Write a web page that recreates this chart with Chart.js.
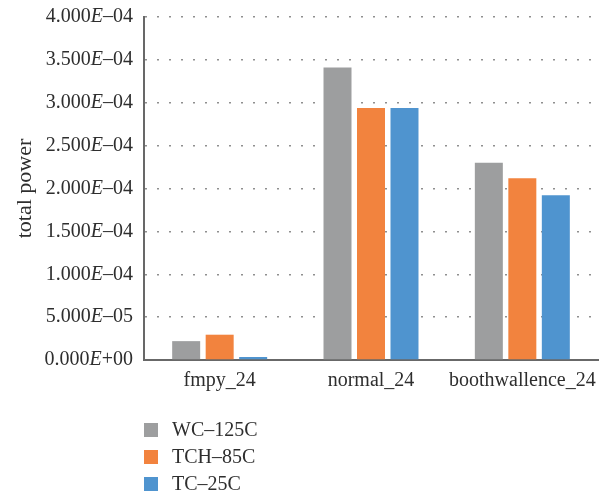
<!DOCTYPE html>
<html>
<head>
<meta charset="utf-8">
<script src="https://cdn.jsdelivr.net/npm/chart.js@4/dist/chart.umd.min.js"></script>
<style>
  html, body { margin: 0; padding: 0; background: #fff; }
  #wrap { width: 616px; height: 495px; }
</style>
</head>
<body>
<div id="wrap"><canvas id="c" width="616" height="495"></canvas></div>
<script>
// Total power per multiplier design at three process corners
const categories = ['fmpy_24', 'normal_24', 'boothwallence_24'];
const seriesNames = ['WC–125C', 'TCH–85C', 'TC–25C'];
const wc125 = [2.2e-5, 3.41e-4, 2.30e-4];
const tch85 = [2.95e-5, 2.94e-4, 2.12e-4];
const tc25 = [3.5e-6, 2.94e-4, 1.92e-4];
const seriesColors = ['#9d9e9f', '#f2833e', '#4f94cf'];
const yTickValues = [0, 5e-5, 1e-4, 1.5e-4, 2e-4, 2.5e-4, 3e-4, 3.5e-4, 4e-4];
const yTickLabels = ['0.000E+00', '5.000E–05', '1.000E–04', '1.500E–04', '2.000E–04',
                     '2.500E–04', '3.000E–04', '3.500E–04', '4.000E–04'];

const FONT = 'Liberation Serif';
const TEXT = '#2e2e2e';
const AXIS = '#686868';

// Tick labels in scientific notation with an italic "E"
const sciTicks = {
  id: 'sciTicks',
  afterDraw(chart) {
    const ctx = chart.ctx;
    const ys = chart.scales.y;
    const xr = ys.right - 11;
    ctx.save();
    ctx.fillStyle = TEXT;
    ctx.textBaseline = 'middle';
    ctx.textAlign = 'left';
    ys.ticks.forEach((t, i) => {
      const label = yTickLabels[i];
      if (!label) return;
      const [mant, exp] = label.split('E');
      const y = ys.getPixelForTick(i);
      ctx.font = `20px "${FONT}"`;
      const wExp = ctx.measureText(exp).width;
      const wMant = ctx.measureText(mant).width;
      ctx.font = `italic 20px "${FONT}"`;
      const wE = ctx.measureText('E').width;
      let x = xr - wExp - wE - wMant;
      ctx.font = `20px "${FONT}"`;
      ctx.fillText(mant, x, y);
      x += wMant;
      ctx.font = `italic 20px "${FONT}"`;
      ctx.fillText('E', x, y);
      x += wE;
      ctx.font = `20px "${FONT}"`;
      ctx.fillText(exp, x, y);
    });
    ctx.restore();
  }
};

// Vertical legend below the plot
const stackedLegend = {
  id: 'stackedLegend',
  afterDraw(chart) {
    const ctx = chart.ctx;
    const x0 = chart.chartArea.left;
    ctx.save();
    ctx.font = `20px "${FONT}"`;
    ctx.textBaseline = 'middle';
    ctx.textAlign = 'left';
    chart.data.datasets.forEach((ds, i) => {
      const top = 423 + i * 27;
      ctx.fillStyle = ds.backgroundColor;
      ctx.fillRect(x0, top, 14, 14);
      ctx.fillStyle = TEXT;
      ctx.fillText(ds.label, x0 + 28, top + 7.5);
    });
    ctx.restore();
  }
};

const seriesValues = [wc125, tch85, tc25];

new Chart(document.getElementById('c'), {
  type: 'bar',
  data: {
    labels: categories,
    datasets: seriesValues.map((vals, i) => ({
      label: seriesNames[i],
      data: vals,
      backgroundColor: seriesColors[i],
      borderWidth: 0,
      categoryPercentage: 0.664,
      barPercentage: 0.836
    }))
  },
  options: {
    responsive: false,
    animation: false,
    devicePixelRatio: 1,
    layout: { padding: { top: 16, right: 18, bottom: 0, left: 0 } },
    plugins: {
      legend: { display: false },
      tooltip: { enabled: false }
    },
    scales: {
      x: {
        grid: { display: false, drawTicks: false },
        border: { display: true, color: AXIS, width: 2 },
        ticks: {
          color: TEXT,
          font: { family: FONT, size: 20 },
          padding: 9,
          maxRotation: 0,
          minRotation: 0,
          autoSkip: false
        },
        afterFit(s) { s.height = 135; }
      },
      y: {
        min: 0,
        max: 4e-4,
        afterBuildTicks(s) { s.ticks = yTickValues.map(v => ({ value: v })); },
        ticks: {
          // labels are painted by sciTicks; these only reserve layout
          color: 'rgba(0,0,0,0)',
          font: { family: FONT, size: 10 },
          padding: 11,
          callback: (v, i) => yTickLabels[i]
        },
        grid: { color: '#8f8f8f', lineWidth: 1.5, drawTicks: false },
        border: { display: true, color: AXIS, width: 2, dash: [2, 10] },
        title: {
          display: true,
          text: 'total power',
          color: TEXT,
          font: { family: FONT, size: 22 },
          padding: { top: 12, bottom: 0 }
        },
        afterFit(s) { s.width = 144; }
      }
    }
  },
  plugins: [sciTicks, stackedLegend]
});
</script>
</body>
</html>
